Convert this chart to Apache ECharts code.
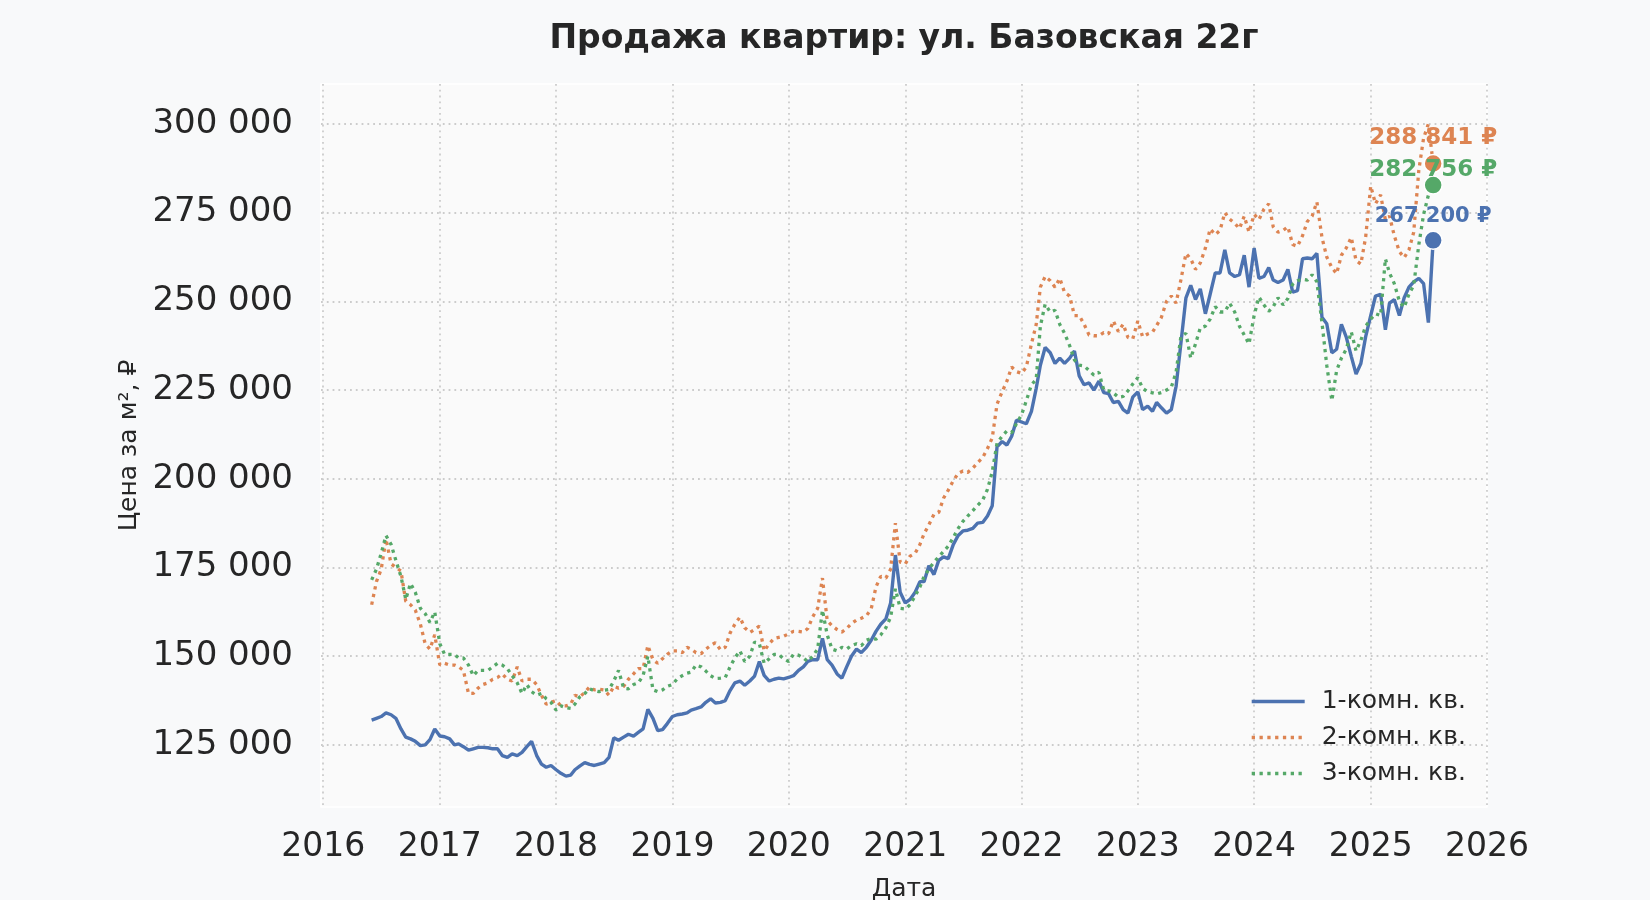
<!DOCTYPE html>
<html>
<head>
<meta charset="utf-8">
<script src="https://cdn.jsdelivr.net/npm/echarts@6/dist/echarts.min.js"></script>
<style>
html, body { margin: 0; padding: 0; background: #f8f9fa; }
#chart { width: 1650px; height: 900px; }
</style>
</head>
<body>
<div id="chart"></div>
<script>
// цена за м2 в тыс. руб., точки на 1-е и 16-е число каждого месяца начиная с 2016-06-01
var startYear = 2016, startMonth = 5;

var room1 = [
  132, 132.5, 133, 134, 133.5, 132.5, 129.5, 127.2, 126.7, 126,
  124.8, 125, 126.5, 129.5, 127.5, 127.3, 126.7, 125, 125.3, 124.5,
  123.5, 123.9, 124.3, 124.3, 124.2, 123.9, 123.9, 122, 121.5, 122.5,
  122, 122.9, 124.5, 126, 122, 119.6, 118.7, 119.2, 118, 117,
  116.2, 116.5, 118, 119, 120, 119.5, 119.2, 119.6, 120, 121.5,
  127, 126.3, 127.2, 128, 127.5, 128.5, 129.5, 135, 132.5, 129,
  129.3, 131, 133, 133.5, 133.7, 134, 134.8, 135.2, 135.7, 137,
  138, 136.8, 137, 137.5, 140.3, 142.5, 143, 141.8, 143, 144.4,
  148.5, 144.6, 143, 143.5, 143.8, 143.6, 144, 144.5, 146, 147,
  148.5, 149, 149, 155, 149, 147.5, 145, 143.8, 147, 150,
  152, 151, 152.5, 154.5, 157, 159, 160.5, 165, 178.5, 168,
  165, 166, 168, 171, 171, 175.5, 173, 177, 178, 177.5,
  181.5, 184, 185.3, 185.5, 186, 187.5, 187.7, 189.5, 192.4, 209,
  210.5, 209.5, 212, 216.5, 216, 215.5, 219, 225.5, 232, 237,
  235.5, 232.5, 234, 232.5, 234, 236, 229, 226.5, 227, 225,
  227.5, 224.3, 224, 221.5, 221.8, 219.5, 218.5, 223, 224.5, 219.5,
  220.5, 219, 221.5, 220, 218.5, 219.5, 226, 238, 251, 254.5,
  250.5, 253.5, 246.5, 252, 258, 258, 264.5, 258, 257, 257.5,
  263, 254, 265, 256.5, 257, 259.5, 256, 255.3, 256, 259,
  252.6, 253, 262, 262.2, 262, 263.5, 245.5, 243.7, 235.5, 236.5,
  243.5, 240, 234.5, 229.5, 232.5, 240, 246, 251.5, 252, 242,
  249.5, 250.5, 246, 251, 254, 255.5, 256.5, 255, 244, 267.2
];

var room2 = [
  164.5, 171, 174.5, 183, 176, 175, 174, 165.5, 164.5, 163,
  159, 153.5, 152, 156, 147.5, 148, 147.5, 147.5, 147, 146,
  139.5, 139.5, 141, 142, 142.5, 143.5, 144, 145, 143.5, 143,
  147, 143, 143.5, 143.5, 142, 139, 136.5, 137, 137.5, 136,
  136, 136.5, 139, 138.5, 139.8, 141.3, 140.5, 140.7, 140.5, 139,
  141.5, 141, 141.5, 143.5, 145, 146.5, 146.5, 153, 149, 148,
  149.3, 150.5, 151.5, 151.5, 151, 152.5, 152, 151, 150.7, 152,
  153, 153.8, 151.8, 152.5, 156.5, 159, 161, 158, 156.7, 157.5,
  158.5, 151.5, 153.5, 155, 155.3, 155.6, 156.3, 157, 157, 156.8,
  157.8, 161, 163.5, 172, 160, 158.6, 157.5, 156.8, 157.8, 159.2,
  160.2, 160.7, 161.4, 163.3, 169.5, 172.5, 172, 174.5, 187.5, 176.5,
  176, 178.2, 179, 181.5, 184.5, 187, 190, 190.5, 194.5, 196.8,
  199.5, 201.5, 202.2, 201.8, 203, 204.5, 206, 208.5, 211.5, 221,
  224.5, 227.5, 231.5, 230.2, 229.7, 231.5, 238, 243.5, 254, 257,
  255.8, 254, 256.5, 252.5, 251.5, 246, 246, 243.6, 240.5, 240.3,
  240.3, 241.2, 240.8, 244.5, 241.5, 243.6, 239.8, 239.4, 244.5, 240,
  240.8, 241.3, 243.2, 245.5, 250, 251.5, 249.5, 256, 263.5, 262,
  259, 260.8, 265, 270.4, 268.8, 270, 275, 273.2, 272, 270.5,
  274, 269.5, 274.5, 273, 276, 277.5, 271, 269.5, 270, 271,
  266, 265.5, 268.5, 272.5, 274, 278, 268, 262.5, 259.5, 257.8,
  263, 265, 268, 261.5, 260.5, 268, 282.5, 277.5, 280, 273,
  274, 268.5, 264, 262.3, 264.5, 269.5, 287, 296, 300, 288.841
];

var room3 = [
  171.5, 174.5, 179, 184, 181.5, 177, 172.5, 166, 170.5, 168,
  163.5, 162, 159.5, 162.5, 153.5, 150.5, 150.5, 150.5, 149.5, 149.5,
  147.5, 144.5, 146, 146, 146, 147, 148, 147.5, 146.5, 144.5,
  142.5, 139.5, 142, 140, 139, 139.5, 138, 137, 134.8, 136,
  135.5, 135.3, 136.5, 138.5, 139.5, 140.8, 140.3, 140, 140.4, 140.6,
  143, 146, 141, 140.8, 142, 142.5, 144.5, 150, 140.5, 140,
  140.5, 141.5, 142, 143.6, 144.5, 145.2, 145.5, 147.5, 147, 145.8,
  144.5, 143.7, 143.8, 144, 147, 149.5, 151.5, 148.5, 150, 154,
  153.5, 148, 149.3, 150.5, 150.5, 149.3, 148.5, 150.5, 150.3, 149.5,
  148.5, 150, 152, 163, 156, 152, 151.5, 152.5, 152, 153,
  153.5, 153, 154.5, 155, 154.8, 156, 158, 161, 169, 163.5,
  163.3, 164.5, 167, 169.5, 172.5, 174.5, 176.5, 178, 179.5, 181,
  183.5, 186, 188, 189.5, 191, 192.5, 194, 197, 202, 210,
  212, 213.5, 213, 215.5, 218, 222, 226.5, 228, 243, 249.2,
  247, 247.5, 243.5, 241, 237.5, 233.5, 232, 231.8, 230.5, 229.2,
  230, 225, 224.8, 224.2, 223, 223.2, 224.8, 226.7, 228.5, 225.5,
  224.5, 224.2, 223.9, 224.3, 225, 225.8, 230, 240, 241, 234,
  238, 242.5, 243, 245, 248.5, 247, 247, 249.5, 247, 243,
  240.5, 238, 246, 251.2, 249, 247.2, 248.5, 251, 249, 250.8,
  254.8, 255.8, 256.2, 256, 257.5, 255.5, 244, 232, 222, 230.5,
  234, 236.5, 241.4, 236, 239, 243, 245, 246.5, 246, 262,
  258, 255, 250, 248.3, 252, 254.5, 266, 274.5, 279.9, 282.756
];

var seriesNames = ['1-комн. кв.', '2-комн. кв.', '3-комн. кв.'];
var colors = ['#4c72b0', '#dd8452', '#55a868'];
var yTicks = [125000, 150000, 175000, 200000, 225000, 250000, 275000, 300000];
var xTickYears = [2016, 2017, 2018, 2019, 2020, 2021, 2022, 2023, 2024, 2025, 2026];

var fontName = 'DejaVu Sans';
var textColor = '#262626';

function fmt(v) {
  return Math.round(v).toString().replace(/\B(?=(\d{3})+(?!\d))/g, ' ');
}

function toPoints(arr) {
  var pts = [];
  for (var i = 0; i < arr.length; i++) {
    var d = Date.UTC(startYear, startMonth + Math.floor(i / 2), i % 2 ? 16 : 1);
    pts.push([d, Math.round(arr[i] * 1000)]);
  }
  return pts;
}

var xTickValues = xTickYears.map(function (y) { return Date.UTC(y, 0, 1); });

var allData = [toPoints(room1), toPoints(room2), toPoints(room3)];
var dashes = ['solid', [3.3, 4.5], [3.3, 4.5]];
var widths = [3.4, 3.3, 3.3];
// подписи у последних точек
var labelOffsets = [[0, -24], [0, -25], [0, -15]];
var labelSizes = [21, 23, 23];

var series = [];
for (var s = 0; s < 3; s++) {
  series.push({
    name: seriesNames[s],
    type: 'line',
    data: allData[s],
    showSymbol: false,
    symbol: 'none',
    color: colors[s],
    lineStyle: { color: colors[s], width: widths[s], type: dashes[s] },
    z: 3
  });
}
for (var s = 0; s < 3; s++) {
  var last = allData[s][allData[s].length - 1];
  series.push({
    name: 'last' + s,
    type: 'scatter',
    data: [last],
    symbolSize: 18,
    itemStyle: { color: colors[s], opacity: 1, borderColor: '#ffffff', borderWidth: 1.5 },
    label: {
      show: true,
      position: 'inside',
      offset: labelOffsets[s],
      formatter: function (p) { return fmt(p.value[1]) + ' ₽'; },
      color: colors[s],
      opacity: 1,
      fontFamily: fontName,
      fontWeight: 'bold',
      fontSize: labelSizes[s]
    },
    z: 6
  });
}

var chart = echarts.init(document.getElementById('chart'), null, { width: 1650, height: 900 });

chart.setOption({
  animation: false,
  backgroundColor: '#f8f9fa',
  textStyle: { fontFamily: fontName },
  title: {
    text: 'Продажа квартир: ул. Базовская 22г',
    left: 899,
    textAlign: 'center',
    top: 18,
    textStyle: { fontFamily: fontName, fontSize: 33, fontWeight: 'bold', color: textColor }
  },
  grid: {
    left: 321, right: 163, top: 84, bottom: 93,
    outerBoundsMode: 'none',
    show: true,
    backgroundColor: '#fafafa',
    borderColor: '#ffffff',
    borderWidth: 1.5
  },
  legend: {
    data: seriesNames,
    orient: 'vertical',
    left: 1245,
    top: 684,
    itemWidth: 53,
    itemHeight: 14,
    itemGap: 11,
    itemStyle: { opacity: 0 },
    lineStyle: { width: 3.4 },
    textStyle: { fontFamily: fontName, fontSize: 25, color: textColor, lineHeight: 25, padding: [0, 0, 0, 12] }
  },
  xAxis: {
    type: 'value',
    min: Date.UTC(2015, 11, 25),
    max: Date.UTC(2026, 0, 1),
    name: 'Дата',
    nameLocation: 'middle',
    nameGap: 70,
    nameTextStyle: { fontFamily: fontName, fontSize: 25, color: textColor },
    axisLine: { show: false },
    axisTick: { show: false, customValues: xTickValues },
    axisLabel: {
      customValues: xTickValues,
      formatter: function (v) { return String(new Date(v).getUTCFullYear()); },
      fontFamily: fontName,
      fontSize: 33,
      color: textColor,
      margin: 24
    },
    splitLine: { show: true, lineStyle: { color: '#cccccc', width: 1.8, type: [1.8, 4] } }
  },
  yAxis: {
    type: 'value',
    min: 107500,
    max: 311250,
    name: 'Цена за м², ₽',
    nameLocation: 'middle',
    nameGap: 176,
    nameRotate: 90,
    nameTextStyle: { fontFamily: fontName, fontSize: 25, color: textColor },
    axisLine: { show: false },
    axisTick: { show: false, customValues: yTicks },
    axisLabel: {
      customValues: yTicks,
      formatter: function (v) { return fmt(v); },
      fontFamily: fontName,
      fontSize: 34,
      color: textColor,
      margin: 28
    },
    splitLine: { show: true, lineStyle: { color: '#cccccc', width: 1.8, type: [1.8, 4] } }
  },
  series: series
});
</script>
</body>
</html>
